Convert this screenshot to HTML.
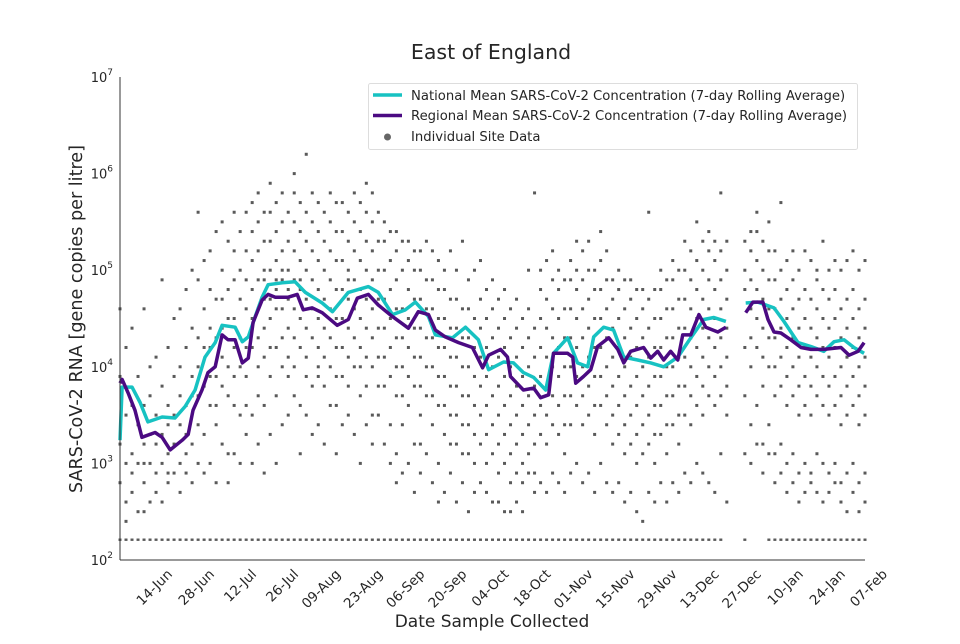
<!DOCTYPE html>
<html><head><meta charset="utf-8"><style>
body{margin:0;background:#fff;font-family:"DejaVu Sans","Liberation Sans",sans-serif;}
svg text{font-family:"DejaVu Sans","Liberation Sans",sans-serif;fill:#262626;}
</style></head><body>
<svg id="chart" width="960" height="640" xmlns="http://www.w3.org/2000/svg">
<text x="491" y="59" font-size="20.5" text-anchor="middle">East of England</text>
<g id="scatter"></g>
<g id="lines"></g>
<g id="axes"></g>
<text transform="translate(82,319) rotate(-90)" font-size="17.6" text-anchor="middle">SARS-CoV-2 RNA [gene copies per litre]</text>
<text x="492" y="627" font-size="17" text-anchor="middle">Date Sample Collected</text>
<g>
<rect x="368.5" y="83.5" width="489" height="66" rx="2" fill="#fff" stroke="#ddd"/>
<line x1="373" y1="95" x2="402" y2="95" stroke="#17c2c2" stroke-width="3.5"/>
<text x="411" y="100" font-size="13.2">National Mean SARS-CoV-2 Concentration (7-day Rolling Average)</text>
<line x1="373" y1="115.5" x2="402" y2="115.5" stroke="#4b0a82" stroke-width="3.5"/>
<text x="411" y="120" font-size="13.2">Regional Mean SARS-CoV-2 Concentration (7-day Rolling Average)</text>
<circle cx="387.5" cy="137" r="3.5" fill="#666"/>
<text x="411" y="141" font-size="13.2">Individual Site Data</text>
</g>
</svg>
<script>
const xTickLabels=["14-Jun","28-Jun","12-Jul","26-Jul","09-Aug","23-Aug","06-Sep","20-Sep","04-Oct","18-Oct","01-Nov","15-Nov","29-Nov","13-Dec","27-Dec","10-Jan","24-Jan","07-Feb"];
const xTickDays=[10,24,38,52,66,80,94,108,122,136,150,164,178,192,206,220,234,248];
const yTickExps=[2,3,4,5,6,7];
const regionalDays=[0,0.7,2.7,5,7.3,11.7,14,16.7,20.7,22.7,24.3,27.3,29.3,31.7,34,36,38.3,40.7,42.7,44.3,47.3,49.3,51.7,56,59,61,64,67.3,72.3,76,79,82.7,86,90.7,96,99.3,102.7,105,108.3,112.7,117.3,120.7,122.7,126.7,129,130,134.3,137.7,140,142.7,144.3,149,150.7,151.7,154.3,156.7,159,162.7,165.7,167.7,170,174.3,176.7,179,181,183.3,185.7,187.3,190,192.7,195,199,201.7,null,208.3,210.7,214,215.7,217.7,220,223.3,226.7,230,234.3,240,242.7,245.7,247.7];
const regionalLog=[3.83,3.87,3.73,3.55,3.27,3.32,3.27,3.14,3.24,3.30,3.55,3.76,3.94,4.00,4.33,4.28,4.28,4.04,4.09,4.46,4.69,4.75,4.72,4.72,4.75,4.59,4.61,4.56,4.43,4.49,4.71,4.75,4.64,4.52,4.40,4.57,4.54,4.38,4.31,4.25,4.20,3.99,4.12,4.18,4.10,3.90,3.76,3.78,3.68,3.71,4.14,4.14,4.10,3.83,3.90,3.97,4.21,4.30,4.18,4.04,4.16,4.20,4.09,4.16,4.07,4.16,4.07,4.33,4.33,4.54,4.41,4.36,4.41,null,4.56,4.67,4.67,4.49,4.36,4.35,4.28,4.20,4.18,4.18,4.20,4.12,4.16,4.25];
const nationalDays=[0,0.7,4,6.7,9.3,14,18.3,21.7,25,28.3,31.7,34,38.3,40.7,42.7,45,47.3,49.3,54,58.3,61.7,67.3,70.7,76,82.7,86,90.7,95,98.3,102.7,105,110.7,115,119.3,122.7,127.7,131,134.3,137.7,141.7,144.3,149,152.3,155.7,157.7,161,164.3,167.7,172.3,176.7,181,185.7,190,194.3,197.7,201.7,null,208.3,212.3,217.7,221,225.7,230,234.3,237.7,241,244.3,247.7];
const nationalLog=[3.24,3.79,3.79,3.63,3.43,3.48,3.47,3.59,3.76,4.10,4.25,4.43,4.41,4.26,4.31,4.52,4.72,4.85,4.87,4.88,4.77,4.66,4.57,4.77,4.83,4.77,4.54,4.59,4.67,4.52,4.33,4.30,4.41,4.28,3.97,4.05,4.04,3.94,3.89,3.76,4.14,4.30,4.04,4.00,4.31,4.41,4.38,4.10,4.07,4.04,4.00,4.10,4.30,4.49,4.51,4.47,null,4.66,4.67,4.61,4.47,4.25,4.21,4.16,4.26,4.28,4.20,4.14];
const siteDays=[0,2,4,6,8,10,12,14,16,18,20,22,24,26,28,30,32,34,36,38,40,42,44,46,48,50,52,54,56,58,60,62,64,66,68,70,72,74,76,78,80,82,84,86,88,90,92,94,96,98,100,102,104,106,108,110,112,114,116,118,120,122,124,126,128,130,132,134,136,138,140,142,144,146,148,150,152,154,156,158,160,162,164,166,168,170,172,174,176,178,180,182,184,186,188,190,192,194,196,198,200,202,208,210,212,214,216,218,220,222,224,226,228,230,232,234,236,238,240,242,244,246,248];
const siteLogs=[
[4.6,3.9,3.2,2.8],[3.5,2.6,3.0,4.2,2.4],[3.1,2.7,4.4,3.6,2.9],[3.4,2.5,3.9,3.0],[4.6,3.2,2.8,3.6,2.5,3.0],[3.7,3.0,2.6,4.0,3.3],[2.9,3.5,4.1,2.7,3.2],[3.8,3.0,3.3,2.6,4.9],[3.4,2.9,4.2,3.1,2.8,3.6],[3.2,3.9,4.5,2.9,3.5],[4.0,3.4,3.0,4.6,2.7,3.7],[3.6,4.2,3.1,2.9,4.8,3.3],[4.4,3.7,3.2,5.0,2.8,3.9],[4.9,4.0,3.4,3.0,5.6,3.7,4.3],[3.8,4.6,3.3,2.9,4.2,5.1],[4.2,3.6,5.2,4.8,3.0,3.9,4.4],[4.7,3.9,3.4,5.4,4.3,2.8,3.6],[5.0,4.4,3.8,3.2,4.7,5.5,4.1],[4.5,3.7,5.3,4.0,3.1,2.8,4.8],[5.6,4.9,4.2,3.6,3.1,4.5,5.2,3.9],[4.3,5.0,3.5,4.7,3.0,5.4,4.0],[5.2,4.6,3.9,3.3,4.9,5.6,4.2,3.6],[4.8,5.4,4.2,3.5,5.1,4.5,3.0,5.7],[5.5,4.9,4.3,3.7,5.2,4.6,3.2,5.8,4.0],[5.3,4.7,4.1,5.6,3.6,4.9,5.0,4.4,2.9],[5.6,5.0,4.5,3.9,5.3,4.7,3.3,5.9,4.2],[5.4,4.8,4.2,5.1,3.7,4.6,5.7,3.0,4.9],[5.8,5.2,4.6,4.0,5.5,4.9,3.4,4.3,5.0],[5.3,4.7,5.0,4.1,3.5,5.6,4.4,3.9,4.8],[6.0,5.5,4.9,4.3,5.2,3.7,4.6,5.8,4.0],[5.4,4.8,5.1,4.2,3.6,4.5,5.7,3.1,4.9],[6.2,5.3,4.7,4.1,5.0,3.5,4.4,5.6,3.9],[5.5,4.9,4.3,5.2,3.8,4.6,3.3,5.8],[5.1,4.5,5.4,3.9,4.2,4.8,3.4,5.7,4.0],[5.6,5.0,4.4,3.8,5.3,4.7,3.2,4.1],[5.2,4.6,5.5,4.0,3.6,4.9,4.3,5.8],[5.4,4.8,4.2,3.6,5.1,4.5,3.1,5.7,3.9],[5.7,5.1,4.5,3.9,5.4,4.8,4.2,3.4],[5.3,4.7,5.0,4.1,3.5,5.6,4.4,3.8,4.9],[5.8,5.2,4.6,4.0,5.5,4.9,3.3,4.3],[5.4,4.8,4.2,5.1,3.7,4.5,5.7,3.0,4.0],[5.6,5.0,4.4,3.8,5.3,4.7,4.1,3.4,5.9],[5.2,4.6,5.5,4.0,3.5,4.9,4.3,5.8,3.2],[5.3,4.7,4.1,3.5,5.0,4.4,5.6,3.8],[5.0,4.4,5.3,3.8,3.2,4.7,4.1,5.5],[5.1,4.5,3.9,3.4,4.8,4.2,5.4,3.0],[4.9,4.3,5.2,3.7,3.1,4.6,4.0,5.4,2.8],[5.3,4.6,4.0,3.4,5.0,4.3,3.7,2.9],[4.8,4.2,5.1,3.6,3.0,4.5,3.9,5.3],[5.0,4.4,3.8,3.2,4.7,4.1,5.2,2.7],[4.7,4.1,5.0,3.5,2.9,4.4,3.8,5.2,3.2],[4.9,4.3,3.7,3.1,4.6,4.0,5.3],[4.6,4.0,4.9,3.4,2.8,4.3,3.7,5.2],[4.8,4.2,3.6,3.0,4.5,3.9,5.1,2.6],[4.5,3.9,4.8,3.3,2.7,4.2,3.6,5.0],[4.7,4.1,3.5,2.9,4.4,3.8,5.2,3.2],[4.4,3.8,4.7,3.2,2.6,4.1,3.5,5.0],[4.6,4.0,3.4,2.8,4.3,3.7,5.3,3.1],[4.3,3.7,4.6,3.1,2.5,4.0,3.4,4.9],[4.5,3.9,3.3,2.7,4.2,3.6,5.0,3.0],[4.4,3.8,4.7,3.2,2.8,4.1,3.5,5.1],[4.2,3.6,3.0,4.5,3.9,3.3,4.8,2.7],[4.3,3.7,4.6,3.1,2.6,4.0,3.4,4.9],[4.1,3.5,2.9,4.4,3.8,3.2,4.7,2.6],[4.2,3.6,4.5,3.0,2.5,3.9,3.3,4.8],[4.0,3.4,2.8,4.3,3.7,3.1,4.6,2.5],[4.1,3.5,4.4,2.9,3.8,3.2,4.7,2.6],[3.9,3.3,2.8,4.2,3.6,3.0,4.5,2.5],[4.0,3.4,4.3,2.9,3.7,3.1,4.6,5.0],[3.8,3.2,2.7,4.1,3.5,2.9,4.4,5.8],[4.5,3.9,4.8,3.3,2.8,4.2,3.6,5.0],[4.4,3.8,3.2,4.7,4.1,3.5,5.1,2.7],[4.6,4.0,4.9,3.4,2.9,4.3,3.7,5.2],[4.5,3.9,3.3,4.8,4.2,3.6,5.0,2.8],[4.3,3.7,4.6,3.1,2.7,4.0,3.4,4.9],[4.6,4.0,3.4,4.9,4.3,3.7,5.1,2.9],[4.8,4.2,5.0,3.6,3.0,4.5,3.9,5.3],[4.6,4.0,3.4,4.9,4.3,3.7,5.2,2.8],[4.7,4.1,5.0,3.5,2.9,4.4,3.8,5.3],[4.5,3.9,3.3,4.8,4.2,3.6,5.0,2.7],[4.8,4.2,5.1,3.6,3.0,4.5,3.9,5.4],[4.6,4.0,3.4,4.9,4.3,3.7,5.2,2.8],[4.4,3.8,4.7,3.2,2.7,4.1,3.5,4.9],[4.5,3.9,3.3,4.8,4.2,3.6,5.0,2.8],[4.3,3.7,4.6,3.1,2.6,4.0,3.4,4.9],[4.4,3.8,3.2,4.7,4.1,3.5,4.9,2.7],[4.2,3.6,4.5,3.0,2.5,3.9,3.3,4.8],[4.3,3.7,3.1,4.6,4.0,3.4,4.8,2.4],[4.4,3.8,4.7,3.2,2.7,4.1,3.5,5.6],[4.2,3.6,3.0,4.5,3.9,3.3,4.8,2.6],[4.5,3.9,4.8,3.3,2.8,4.2,3.6,5.0],[4.3,3.7,3.1,4.6,4.0,3.4,4.9,2.6],[4.6,4.0,4.9,3.4,2.8,4.3,3.7,5.1],[4.4,3.8,3.2,4.7,4.1,3.5,5.0,2.7],[4.7,4.1,5.0,3.5,2.9,4.4,3.8,5.3],[4.6,4.0,3.4,4.9,4.3,3.7,5.2,2.8],[4.8,4.2,5.1,3.6,3.0,4.5,3.9,5.5],[4.7,4.1,3.5,5.0,4.4,3.8,5.3,2.9],[4.9,4.3,5.2,3.7,2.8,4.6,4.0,5.4],[4.8,4.2,3.6,5.1,4.5,3.9,5.3,2.7],[4.9,4.3,5.2,3.7,3.1,4.6,4.0,5.8],[4.7,4.1,3.5,5.0,4.4,3.8,5.3,2.6],
[5.3,4.8,3.7,3.1,4.2,5.0],[5.2,4.6,4.0,3.4,4.9,4.3,5.4,3.0],[5.4,4.8,4.2,3.6,5.1,4.5,3.2,5.6],[5.0,4.4,3.8,3.2,4.7,4.1,5.3,2.9],[5.2,4.6,4.0,3.4,4.9,4.3,5.5,3.1],[4.9,4.3,3.7,3.1,4.6,4.0,5.2,2.8],[5.0,4.4,3.8,3.2,4.7,4.1,5.7,2.9],[4.8,4.2,3.6,3.0,4.5,3.9,5.1,2.7],[4.9,4.3,3.7,3.1,4.6,4.0,5.2,2.8],[4.7,4.1,3.5,2.9,4.4,3.8,5.0,2.6],[4.8,4.2,3.6,3.0,4.5,3.9,5.2,2.7],[4.7,4.1,3.5,2.9,4.4,3.8,5.1,2.8],[4.9,4.3,3.7,3.1,4.6,4.0,5.0,2.7],[4.8,4.2,3.6,3.0,4.5,3.9,5.3,2.6],[4.7,4.1,3.5,2.9,4.4,3.8,5.0,2.7],[4.8,4.2,3.6,3.0,4.5,3.9,5.1,2.8],[4.6,4.0,3.4,2.8,4.3,3.7,5.0,2.6],[4.7,4.1,3.5,2.9,4.4,3.8,5.1,2.5],[4.8,4.2,3.6,3.0,4.5,3.9,5.2,2.7],[4.6,4.0,3.4,2.8,4.3,3.7,5.0,2.5],[4.7,4.1,3.5,2.9,4.4,3.8,5.1,2.6]];
const lodLog=2.21;
const lodDays=[0,2,4,6,8,10,12,14,16,18,20,22,24,26,28,30,32,34,36,38,40,42,44,46,48,50,52,54,56,58,60,62,64,66,68,70,72,74,76,78,80,82,84,86,88,90,92,94,96,98,100,102,104,106,108,110,112,114,116,118,120,122,124,126,128,130,132,134,136,138,140,142,144,146,148,150,152,154,156,158,160,162,164,166,168,170,172,174,176,178,180,182,184,186,188,190,192,194,196,198,200,208,216,218,220,222,224,226,228,230,232,234,236,238,240,242,244,246,248];

const NS='http://www.w3.org/2000/svg';
const X0=120,X1=865,Y0=560,Y1=77,D0=0,D1=248;
function xs(d){return X0+(d-D0)*(X1-X0)/(D1-D0);}
function ys(l){return Y0-(l-2)*(Y0-Y1)/5;}
function mk(tag,attrs,parent){const e=document.createElementNS(NS,tag);for(const k in attrs)e.setAttribute(k,attrs[k]);parent.appendChild(e);return e;}

const sc=document.getElementById('scatter');
siteDays.forEach((d,i)=>{(siteLogs[i]||[]).forEach(v=>{
  const p=mk('rect',{x:xs(d)-1.5,y:ys(v)-1.5,width:3,height:3,fill:'#5a5a5a'},sc);
  
  
});});
lodDays.forEach(d=>{
  const p=mk('rect',{x:xs(d)-1.5,y:ys(lodLog)-1.2,width:3,height:2.4,fill:'#5a5a5a'},sc);
  
  
});

function drawLine(days,vals,color,name){
  const g=document.getElementById('lines');
  let segs=[],cur=[];
  days.forEach((d,i)=>{if(d===null||vals[i]===null){if(cur.length)segs.push(cur);cur=[];}else cur.push(xs(d).toFixed(1)+','+ys(vals[i]).toFixed(1));});
  if(cur.length)segs.push(cur);
  segs.forEach(s=>{
    const p=mk('polyline',{points:s.join(' '),fill:'none',stroke:color,'stroke-width':3.5,'stroke-linejoin':'round'},g);
    
    
  });
}
drawLine(nationalDays,nationalLog,'#17c2c2','national-mean-line');
drawLine(regionalDays,regionalLog,'#4b0a82','regional-mean-line');

const ax=document.getElementById('axes');
mk('line',{x1:X0,y1:Y1,x2:X0,y2:Y0,stroke:'#333','stroke-width':1},ax);
mk('line',{x1:X0,y1:Y0,x2:X1,y2:Y0,stroke:'#333','stroke-width':1},ax);
yTickExps.forEach(e=>{
  const t=mk('text',{x:113,y:ys(e)+5,'font-size':13,'text-anchor':'end'},ax);
  
  
  t.textContent='10';
  const s=mk('tspan',{dy:-7,'font-size':9},t);s.textContent=String(e);
});
xTickDays.forEach((d,i)=>{
  const x=xs(d);
  const t=mk('text',{transform:`translate(${x+23},${Y0+15}) rotate(-45)`,'font-size':13.5,'text-anchor':'end'},ax);
  
  
  t.textContent=xTickLabels[i];
});
</script>
</body></html>
